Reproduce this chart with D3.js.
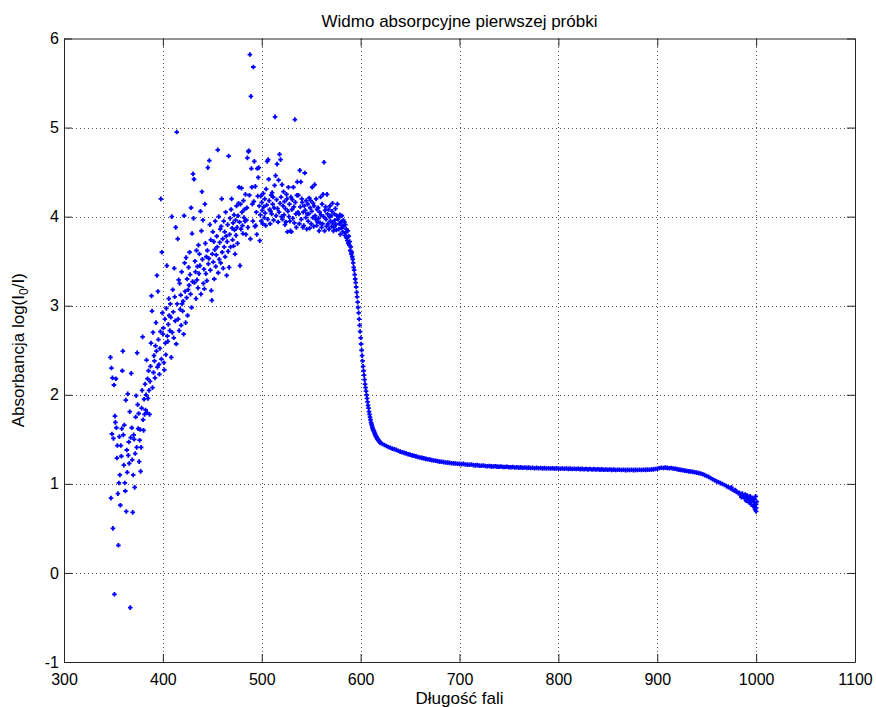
<!DOCTYPE html>
<html>
<head>
<meta charset="utf-8">
<title>Widmo absorpcyjne pierwszej próbki</title>
<script src="https://cdn.jsdelivr.net/npm/d3@7"></script>
<style>
    html, body { margin: 0; padding: 0; background: #fff; }
    svg { display: block; }
    text { font-family: "Liberation Sans", Arial, Helvetica, sans-serif; fill: #000; }
</style>
</head>
<body>
<div id="chart"></div>
<script>
// absorbancja w funkcji długości fali
// zakres zaszumiony, co 0.5 nm od 347 nm
const noisyStart = 347;
const noisyStep = 0.5;
const noisyValues = [
    2.42, 0.84, 2.30, 1.56, 2.19, 0.50, 1.51, 2.11, -0.24, 1.76, 1.69, 2.18, 1.63, 1.29, 1.43, 0.89, 0.31, 1.01, 1.53, 1.10,
    0.76, 1.43, 1.31, 1.62, 2.27, 2.49, 1.55, 1.21, 1.66, 1.01, 0.92, 1.94, 0.69, 1.38, 1.13, 2.01, 1.32, 1.47, 1.23, 1.81,
    -0.39, 1.52, 2.24, 1.63, 1.27, 0.68, 1.10, 1.55, 1.50, 0.96, 1.34, 1.75, 1.99, 1.41, 2.47, 1.89, 1.62, 1.79, 1.25, 1.49,
    1.61, 1.14, 1.41, 1.85, 2.05, 2.65, 1.72, 1.60, 1.95, 1.78, 2.12, 1.83, 2.00, 2.39, 1.80, 2.18, 1.96, 2.27, 2.05, 1.78,
    2.15, 2.32, 2.58, 3.11, 2.94, 2.08, 2.70, 2.25, 2.44, 2.38, 2.19, 2.55, 2.81, 2.49, 3.34, 2.31, 3.16, 2.62, 2.34, 2.23,
    2.52, 2.71, 4.20, 2.40, 3.60, 2.92, 2.68, 2.75, 2.36, 2.28, 2.85, 2.58, 2.45, 2.97, 3.45, 2.66, 2.60, 2.79, 3.08, 2.89,
    2.72, 3.02, 2.87, 2.42, 4.00, 2.70, 3.18, 2.93, 2.64, 3.42, 3.10, 2.83, 3.88, 2.57, 4.95, 3.02, 3.75, 2.85, 3.29, 2.72,
    3.25, 2.96, 3.12, 2.78, 3.38, 3.02, 2.94, 3.05, 2.68, 4.01, 3.48, 3.16, 2.81, 3.54, 3.09, 3.30, 2.89, 3.18, 3.43, 3.23,
    3.60, 3.35, 3.13, 4.10, 2.98, 3.81, 3.27, 4.48, 3.98, 4.42, 3.26, 3.50, 3.38, 3.08, 3.62, 3.29, 3.44, 3.20, 3.68, 3.36,
    3.58, 3.45, 4.06, 3.13, 3.84, 4.28, 3.52, 3.96, 3.25, 3.41, 3.19, 4.14, 3.70, 3.36, 3.55, 3.28, 3.62, 4.55, 3.47, 3.53,
    4.63, 3.91, 3.40, 3.74, 3.17, 3.06, 3.58, 3.83, 3.49, 3.72, 3.30, 3.63, 3.95, 3.44, 3.57, 3.78, 3.66, 4.75, 3.37, 4.00,
    3.52, 3.71, 3.86, 3.48, 3.89, 4.20, 3.60, 3.75, 3.42, 3.95, 3.66, 3.83, 3.55, 4.05, 3.78, 3.34, 3.72, 3.91, 3.61, 4.68,
    3.43, 3.80, 3.98, 3.66, 4.08, 4.20, 3.87, 3.74, 3.93, 3.67, 4.02, 3.85, 3.58, 3.96, 3.79, 4.12, 3.88, 3.70, 4.01, 4.15,
    4.33, 3.94, 3.45, 4.14, 3.86, 4.32, 4.05, 3.90, 3.81, 4.18, 3.99, 4.08, 3.95, 4.25, 3.80, 3.96, 4.10, 4.66, 3.88, 4.73,
    4.74, 4.24, 5.82, 3.75, 5.35, 4.54, 4.33, 4.14, 3.95, 5.68, 4.17, 4.62, 3.89, 4.34, 3.90, 4.05, 3.80, 4.54, 4.23, 4.44,
    4.55, 4.12, 3.73, 4.02, 4.23, 3.95, 4.16, 4.07, 3.92, 4.26, 4.11, 3.99, 4.20, 4.04, 3.90, 4.31, 4.13, 4.62, 3.97, 4.64,
    4.42, 4.18, 4.08, 3.92, 4.06, 4.24, 4.03, 4.27, 4.14, 4.22, 3.96, 4.10, 4.35, 5.12, 4.46, 4.01, 4.19, 4.59, 4.09, 3.94,
    4.41, 4.05, 4.70, 4.15, 4.64, 4.22, 4.00, 4.36, 3.97, 4.12, 4.28, 4.02, 4.17, 3.91, 4.09, 3.94, 4.25, 4.20, 3.83, 4.06,
    4.33, 4.00, 4.14, 3.95, 3.84, 4.22, 3.83, 4.08, 4.19, 3.98, 4.33, 4.11, 3.93, 5.09, 4.16, 4.03, 3.88, 4.24, 4.39, 4.05,
    4.24, 4.03, 3.92, 4.52, 4.11, 4.39, 3.97, 4.20, 4.16, 3.88, 4.05, 3.90, 4.12, 4.49, 4.07, 3.99, 4.18, 3.86, 4.03, 4.14,
    3.95, 4.03, 4.21, 3.87, 4.10, 4.18, 3.92, 4.06, 4.33, 3.99, 4.15, 3.89, 4.12, 4.36, 4.01, 3.97, 4.20, 3.90, 4.08, 3.94,
    4.10, 3.98, 3.84, 4.05, 3.93, 4.22, 4.02, 3.88, 4.14, 3.92, 4.25, 4.00, 4.61, 3.84, 4.07, 4.11, 3.97, 3.89, 4.25, 4.03,
    3.92, 4.08, 3.86, 4.00, 4.12, 3.95, 4.01, 3.89, 4.06, 4.15, 3.93, 3.84, 3.88, 4.03, 3.96, 4.09, 3.91, 3.85, 4.01, 4.14,
    3.97, 3.99, 3.86, 3.92, 4.02, 3.80, 3.94, 3.87, 4.01, 3.90, 3.83, 3.96, 3.89, 3.94, 3.79, 3.91, 3.82, 3.86, 3.76, 3.73,
    3.84, 3.70
];

// spadek absorbancji, co 0.5 nm od 588 nm
const dropStart = 588;
const dropStep = 0.5;
const dropValues = [
    3.78, 3.68, 3.72, 3.62, 3.66, 3.58, 3.60, 3.55, 3.52, 3.48, 3.43, 3.40, 3.35, 3.30, 3.26, 3.21, 3.15, 3.10, 3.04, 2.98,
    2.92, 2.85, 2.78, 2.71, 2.64, 2.57, 2.50, 2.44, 2.38, 2.32, 2.27, 2.22, 2.17, 2.12, 2.08, 2.04, 2.00, 1.96, 1.92, 1.88,
    1.85, 1.81, 1.78, 1.75, 1.72, 1.69, 1.67, 1.65, 1.63, 1.61, 1.60, 1.59, 1.575, 1.56, 1.545, 1.535, 1.525, 1.515, 1.505, 1.497,
    1.49, 1.482, 1.475, 1.468
];

// część gładka, co 2 nm od 620 nm
const smoothStart = 620;
const smoothStep = 2;
const smoothValues = [
    1.460, 1.448, 1.437, 1.425, 1.414, 1.405, 1.396, 1.388, 1.381, 1.372,
    1.362, 1.355, 1.348, 1.342, 1.333, 1.328, 1.320, 1.316, 1.308, 1.302,
    1.296, 1.292, 1.286, 1.280, 1.276, 1.272, 1.266, 1.262, 1.260, 1.254,
    1.250, 1.248, 1.244, 1.240, 1.238, 1.236, 1.232, 1.230, 1.228, 1.226,
    1.224, 1.222, 1.224, 1.218, 1.216, 1.214, 1.217, 1.210, 1.208, 1.210,
    1.205, 1.203, 1.206, 1.200, 1.198, 1.201, 1.196, 1.195, 1.198, 1.193,
    1.192, 1.195, 1.190, 1.189, 1.192, 1.187, 1.186, 1.190, 1.184, 1.186,
    1.182, 1.185, 1.181, 1.183, 1.179, 1.182, 1.178, 1.180, 1.176, 1.179,
    1.176, 1.178, 1.174, 1.177, 1.173, 1.176, 1.172, 1.175, 1.171, 1.174,
    1.172, 1.170, 1.173, 1.169, 1.172, 1.168, 1.171, 1.167, 1.170, 1.166,
    1.169, 1.165, 1.168, 1.164, 1.167, 1.163, 1.166, 1.162, 1.165, 1.161,
    1.164, 1.160, 1.163, 1.159, 1.162, 1.158, 1.161, 1.157, 1.160, 1.156,
    1.159, 1.158, 1.155, 1.158, 1.154, 1.157, 1.155, 1.158, 1.154, 1.157,
    1.155, 1.158, 1.156, 1.159, 1.157, 1.160, 1.158, 1.161, 1.163, 1.166,
    1.170, 1.176, 1.180, 1.178, 1.182, 1.179, 1.176, 1.178, 1.173, 1.170,
    1.165, 1.160, 1.157, 1.152, 1.148, 1.145, 1.140, 1.138, 1.134, 1.130,
    1.126, 1.120, 1.116, 1.108, 1.098, 1.088, 1.078, 1.066, 1.052, 1.040,
    1.028, 1.018, 1.008, 0.998, 0.988, 0.975, 0.962, 0.950, 0.936, 0.922,
    0.910, 0.896, 0.880, 0.868, 0.858, 0.846, 0.836, 0.824, 0.810, 0.795,
    0.770
];

// rozrzut punktów przy końcu zakresu
const tailWavelengths = [975, 979, 983, 985, 986, 988, 989, 990, 991, 992, 993, 994, 995, 996, 997, 998, 998.5, 999, 999.5, 1000, 1000, 1000.5];
const tailValues =      [0.96, 0.93, 0.90, 0.85, 0.89, 0.84, 0.88, 0.81, 0.87, 0.83, 0.79, 0.86, 0.77, 0.84, 0.75, 0.83, 0.74, 0.71, 0.86, 0.73, 0.69, 0.80];

const xTicks = [300, 400, 500, 600, 700, 800, 900, 1000, 1100];
const yTicks = [-1, 0, 1, 2, 3, 4, 5, 6];

const titleText = "Widmo absorpcyjne pierwszej próbki";
const xLabelText = "Długość fali";

// zbierz wszystkie punkty
function buildPoints() {
    const pts = [];
    noisyValues.forEach((v, i) => pts.push([noisyStart + i * noisyStep, v]));
    dropValues.forEach((v, i) => pts.push([dropStart + i * dropStep, v]));
    smoothValues.forEach((v, i) => pts.push([smoothStart + i * smoothStep, v]));
    tailValues.forEach((v, i) => pts.push([tailWavelengths[i], v]));
    return pts;
}

function drawChart() {
    const width = 876, height = 707;
    const margin = { left: 64, right: 21, top: 38.5, bottom: 45 };

    const svg = d3.select("#chart").append("svg")
        .attr("width", width)
        .attr("height", height);

    svg.append("rect")
        .attr("width", width)
        .attr("height", height)
        .attr("fill", "#fff");

    const x = d3.scaleLinear()
        .domain([300, 1100])
        .range([margin.left, width - margin.right]);
    const y = d3.scaleLinear()
        .domain([-1, 6])
        .range([height - margin.bottom, margin.top]);

    const x0 = x.range()[0], x1 = x.range()[1];
    const y0 = y.range()[0], y1 = y.range()[1];

    // siatka kropkowana
    const grid = svg.append("g")
        .attr("stroke", "#555")
        .attr("stroke-width", 1)
        .attr("stroke-dasharray", "1,3")
        .attr("shape-rendering", "crispEdges");
    grid.selectAll("line.gx")
        .data(xTicks.slice(1, -1))
        .join("line")
        .attr("x1", d => Math.round(x(d)) + 0.5)
        .attr("x2", d => Math.round(x(d)) + 0.5)
        .attr("y1", y1)
        .attr("y2", y0);
    grid.selectAll("line.gy")
        .data(yTicks.slice(1, -1))
        .join("line")
        .attr("y1", d => Math.round(y(d)) + 0.5)
        .attr("y2", d => Math.round(y(d)) + 0.5)
        .attr("x1", x0)
        .attr("x2", x1);

    // punkty pomiarowe (znaczniki w kształcie plusa)
    const pts = buildPoints();
    svg.append("g")
        .selectAll("path")
        .data(pts)
        .join("path")
        .attr("transform", d => `translate(${x(d[0])},${y(d[1])})`)
        .attr("d", "M-2.3,0H2.3M0,-2.3V2.3")
        .attr("stroke", "#0000ff")
        .attr("stroke-width", 1.8)
        .attr("fill", "none");

    // osie z podziałką do wewnątrz
    const tickLen = 8;
    const fmt = d => String(d);
    const axisBottom = d3.axisBottom(x).tickValues(xTicks).tickFormat(fmt).tickSizeInner(-tickLen).tickSizeOuter(0).tickPadding(10);
    const axisTop = d3.axisTop(x).tickValues(xTicks).tickSizeInner(-tickLen).tickSizeOuter(0).tickFormat("");
    const axisLeft = d3.axisLeft(y).tickValues(yTicks).tickFormat(fmt).tickSizeInner(-tickLen).tickSizeOuter(0).tickPadding(13);
    const axisRight = d3.axisRight(y).tickValues(yTicks).tickSizeInner(-tickLen).tickSizeOuter(0).tickFormat("");

    const gB = svg.append("g").attr("transform", `translate(0,${y0})`).call(axisBottom);
    const gT = svg.append("g").attr("transform", `translate(0,${y1})`).call(axisTop);
    const gL = svg.append("g").attr("transform", `translate(${x0},0)`).call(axisLeft);
    const gR = svg.append("g").attr("transform", `translate(${x1},0)`).call(axisRight);

    [gB, gT, gL, gR].forEach(g => {
        g.select(".domain").attr("stroke", "#262626");
        g.selectAll(".tick line").attr("stroke", "#262626");
        g.selectAll("text")
            .attr("font-size", 16)
            .attr("font-family", '"Liberation Sans", Arial, sans-serif')
            .attr("fill", "#000");
    });
    gB.selectAll("text").attr("dy", "0.71em").attr("y", 12);
    gL.selectAll("text").attr("x", -5);

    // tytuł
    svg.append("text")
        .attr("x", (x0 + x1) / 2)
        .attr("y", 27)
        .attr("text-anchor", "middle")
        .attr("font-size", 17)
        .text(titleText);

    // opis osi X
    svg.append("text")
        .attr("x", (x0 + x1) / 2)
        .attr("y", 704)
        .attr("text-anchor", "middle")
        .attr("font-size", 17)
        .text(xLabelText);

    // opis osi Y z indeksem dolnym
    const yl = svg.append("text")
        .attr("transform", `translate(24,${(y0 + y1) / 2}) rotate(-90)`)
        .attr("text-anchor", "middle")
        .attr("font-size", 17);
    yl.append("tspan").text("Absorbancja log(I");
    yl.append("tspan").attr("font-size", 12).attr("dy", 4).text("0");
    yl.append("tspan").attr("dy", -4).text("/I)");
}

drawChart();
</script>
</body>
</html>
